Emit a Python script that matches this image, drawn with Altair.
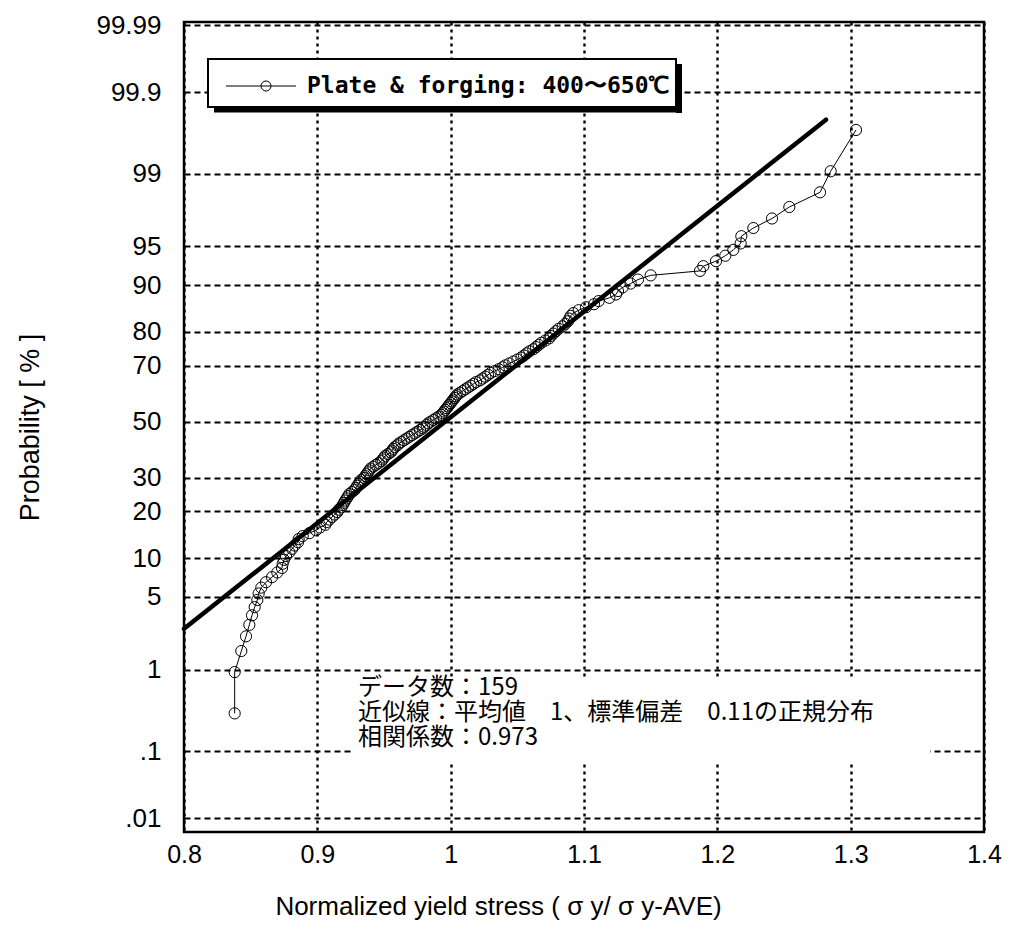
import altair as alt
import pandas as pd
from statistics import NormalDist

# ---------------- data ----------------
stress = [
    0.838, 0.838, 0.843, 0.8465, 0.849, 0.851, 0.853, 0.855, 0.856, 0.858,
    0.8615, 0.866, 0.870, 0.8735, 0.874, 0.875, 0.8765, 0.879, 0.881, 0.883,
    0.8855, 0.886, 0.889, 0.894, 0.899, 0.902, 0.906, 0.907, 0.909, 0.911,
    0.913, 0.915, 0.916, 0.918, 0.919, 0.920, 0.921, 0.922, 0.923, 0.924,
    0.926, 0.928, 0.929, 0.930, 0.931, 0.932, 0.933, 0.935, 0.936, 0.937,
    0.938, 0.939, 0.940, 0.942, 0.944, 0.946, 0.948, 0.949, 0.950, 0.951,
    0.953, 0.955, 0.956, 0.957, 0.958, 0.960, 0.961, 0.963, 0.965, 0.967,
    0.969, 0.971, 0.973, 0.975, 0.977, 0.979, 0.980, 0.982, 0.983, 0.985,
    0.987, 0.989, 0.991, 0.993, 0.994, 0.995, 0.996, 0.997, 0.998, 0.999,
    1.000, 1.001, 1.002, 1.003, 1.004, 1.005, 1.007, 1.009, 1.011, 1.013,
    1.015, 1.017, 1.019, 1.022, 1.024, 1.026, 1.028, 1.030, 1.033, 1.036,
    1.039, 1.041, 1.044, 1.047, 1.050, 1.053, 1.055, 1.057, 1.059, 1.062,
    1.064, 1.066, 1.068, 1.071, 1.074, 1.075, 1.077, 1.079, 1.081, 1.084,
    1.086, 1.088, 1.089, 1.090, 1.092, 1.096, 1.1015, 1.1075, 1.111, 1.119,
    1.124, 1.1255, 1.129, 1.135, 1.1405, 1.150, 1.187, 1.1895, 1.199, 1.206,
    1.212, 1.2175, 1.218, 1.227, 1.241, 1.254, 1.277, 1.285, 1.304,
]

probability = [
    0.31, 0.94, 1.57, 2.20, 2.83, 3.46, 4.09, 4.72, 5.35, 5.97,
    6.60, 7.23, 7.86, 8.49, 9.12, 9.75, 10.38, 11.01, 11.64, 12.26,
    12.89, 13.52, 14.15, 14.78, 15.41, 16.04, 16.67, 17.30, 17.92, 18.55,
    19.18, 19.81, 20.44, 21.07, 21.70, 22.33, 22.96, 23.58, 24.21, 24.84,
    25.47, 26.10, 26.73, 27.36, 27.99, 28.62, 29.25, 29.87, 30.50, 31.13,
    31.76, 32.39, 33.02, 33.65, 34.28, 34.91, 35.53, 36.16, 36.79, 37.42,
    38.05, 38.68, 39.31, 39.94, 40.57, 41.19, 41.82, 42.45, 43.08, 43.71,
    44.34, 44.97, 45.60, 46.23, 46.86, 47.48, 48.11, 48.74, 49.37, 50.00,
    50.63, 51.26, 51.89, 52.52, 53.14, 53.77, 54.40, 55.03, 55.66, 56.29,
    56.92, 57.55, 58.18, 58.81, 59.43, 60.06, 60.69, 61.32, 61.95, 62.58,
    63.21, 63.84, 64.47, 65.09, 65.72, 66.35, 66.98, 67.61, 68.24, 68.87,
    69.50, 70.13, 70.75, 71.38, 72.01, 72.64, 73.27, 73.90, 74.53, 75.16,
    75.79, 76.42, 77.04, 77.67, 78.30, 78.93, 79.56, 80.19, 80.82, 81.45,
    82.08, 82.70, 83.33, 83.96, 84.59, 85.22, 85.85, 86.48, 87.11, 87.74,
    88.36, 88.99, 89.62, 90.25, 90.88, 91.51, 92.14, 92.77, 93.40, 94.03,
    94.65, 95.28, 95.91, 96.54, 97.17, 97.80, 98.43, 99.06, 99.69,
]

# approximation line (end points)
fit_stress = [0.8, 1.2815]
fit_probability = [2.6, 99.77]

x_tick_values = [0.8, 0.9, 1.0, 1.1, 1.2, 1.3, 1.4]
x_tick_labels = ["0.8", "0.9", "1", "1.1", "1.2", "1.3", "1.4"]
p_tick_values = [0.01, 0.1, 1, 5, 10, 20, 30, 50, 70, 80, 90, 95, 99, 99.9, 99.99]
p_tick_labels = [".01", ".1", "1", "5", "10", "20", "30", "50", "70", "80",
                 "90", "95", "99", "99.9", "99.99"]

legend_label = ["Plate & forging: 400〜650℃"]
note_lines = ["データ数：159",
              "近似線：平均値　1、標準偏差　0.11の正規分布",
              "相関係数：0.973"]

x_title = "Normalized yield stress ( σ y/ σ y-AVE)"
y_title = "Probability [ % ]"

# ---------------- helpers ----------------
z_tick_values = [NormalDist().inv_cdf(p / 100.0) for p in p_tick_values]


def label_expr(vals, labels):
    expr = f"'{labels[-1]}'"
    for i in range(len(vals) - 2, -1, -1):
        mid = (vals[i] + vals[i + 1]) / 2.0
        expr = f"datum.value < {mid:.5f} ? '{labels[i]}' : ({expr})"
    return expr


LATIN = "Liberation Sans"
JP = "Noto Sans CJK JP"

data = pd.DataFrame({"stress": stress, "prob": probability,
                     "rank": list(range(1, len(stress) + 1))})
fit = pd.DataFrame({"stress": fit_stress, "prob": fit_probability})

xscale = alt.Scale(domain=[0.8, 1.4], nice=False, zero=False)
yscale = alt.Scale(domain=[-3.85, 3.75], nice=False, zero=False)

xaxis = alt.Axis(
    values=x_tick_values, labelExpr=label_expr(x_tick_values, x_tick_labels),
    grid=True, gridColor="black", gridDash=[3, 4], gridWidth=2.4, gridOpacity=1,
    ticks=False, domain=False, labelFont=LATIN, labelFontSize=25,
    labelColor="black", labelPadding=10, labelFlush=False,
    title=x_title, titleFont=LATIN, titleFontSize=26, titleFontWeight="normal",
    titleColor="black", titleX=314, titleY=74, titleAlign="center",
    titleBaseline="middle",
)
yaxis = alt.Axis(
    values=z_tick_values, labelExpr=label_expr(z_tick_values, p_tick_labels),
    grid=True, gridColor="black", gridDash=[6, 4], gridWidth=2.2, gridOpacity=1,
    ticks=False, domain=False, labelFont=LATIN, labelFontSize=26,
    labelColor="black", labelPadding=23, labelFlush=False,
    title=y_title, titleFont=LATIN, titleFontSize=27, titleFontWeight="normal",
    titleColor="black", titleX=-154, titleY=405, titleAngle=270,
    titleAlign="center", titleBaseline="middle",
)

base = alt.Chart(data).transform_calculate(
    z="quantileNormal(datum.prob / 100)"
).encode(
    x=alt.X("stress:Q", scale=xscale, axis=xaxis),
    y=alt.Y("z:Q", scale=yscale, axis=yaxis),
    order="rank:Q",
)

data_line = base.mark_line(color="black", strokeWidth=1)
data_points = base.mark_point(shape="circle", filled=False, color="black",
                              size=125, strokeWidth=1, opacity=1)

fit_line = alt.Chart(fit).transform_calculate(
    z="quantileNormal(datum.prob / 100)"
).mark_line(color="black", strokeWidth=4.5, strokeCap="round").encode(
    x=alt.X("stress:Q", scale=xscale),
    y=alt.Y("z:Q", scale=yscale),
)

# ---- legend box (drawn) ----
leg = pd.DataFrame({"label": legend_label})
leg_box = alt.Chart(leg).mark_rect(fill="white", stroke="black", strokeWidth=2,
                                   opacity=1).encode(
    x=alt.value(24), x2=alt.value(492), y=alt.value(37), y2=alt.value(85))
leg_shadow_r = alt.Chart(leg).mark_rule(color="black", strokeWidth=6).encode(
    x=alt.value(495), y=alt.value(42), y2=alt.value(91))
leg_shadow_b = alt.Chart(leg).mark_rule(color="black", strokeWidth=5).encode(
    x=alt.value(30), x2=alt.value(498), y=alt.value(88))
leg_rule = alt.Chart(leg).mark_rule(color="black", strokeWidth=1).encode(
    x=alt.value(42), x2=alt.value(112), y=alt.value(64))
leg_pt = alt.Chart(leg).mark_point(shape="circle", filled=False, color="black",
                                   size=100, strokeWidth=1, opacity=1).encode(
    x=alt.value(82), y=alt.value(64))
leg_text = alt.Chart(leg).mark_text(align="left", baseline="middle", font="DejaVu Sans Mono",
                                    fontSize=23, fontWeight="bold", color="black").encode(
    x=alt.value(123), y=alt.value(64), text="label:N")

# ---- annotation ----
note_bg = alt.Chart(pd.DataFrame({"label": [""]})).mark_rect(fill="white", opacity=1).encode(
    x=alt.value(168), x2=alt.value(746), y=alt.value(655), y2=alt.value(740))
note_layers = []
for i, line in enumerate(note_lines):
    note_layers.append(
        alt.Chart(pd.DataFrame({"label": [line]})).mark_text(
            align="left", baseline="middle", font=JP, fontSize=24, color="black"
        ).encode(x=alt.value(174), y=alt.value(666 + 25 * i), text="label:N")
    )

chart = alt.layer(
    data_line, data_points, fit_line,
    leg_box, leg_shadow_r, leg_shadow_b, leg_rule, leg_pt, leg_text,
    note_bg, *note_layers,
).properties(
    width=800, height=810,
    autosize=alt.AutoSizeParams(type="none"),
    padding={"left": 176, "top": 14, "right": 18, "bottom": 100},
    background="white",
).configure_view(
    stroke="black", strokeWidth=2.5
)

chart.save("out.html", embed_options={"renderer": "svg", "actions": False})
